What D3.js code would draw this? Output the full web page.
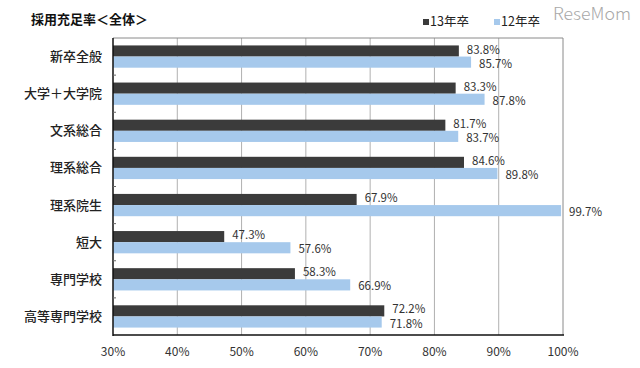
<!DOCTYPE html>
<html><head><meta charset="utf-8">
<script src="https://cdn.jsdelivr.net/npm/d3@7"></script>
<style>
html,body{margin:0;padding:0;background:#fff;}
text{font-family:"Noto Sans CJK JP","Noto Sans",sans-serif;}
</style></head>
<body>
<svg id="chart" width="640" height="368"></svg>
<script>
const categories = ["新卒全般","大学＋大学院","文系総合","理系総合","理系院生","短大","専門学校","高等専門学校"];
const seriesNames = ["13年卒","12年卒"];
const values13 = [83.8,83.3,81.7,84.6,67.9,47.3,58.3,72.2];
const values12 = [85.7,87.8,83.7,89.8,99.7,57.6,66.9,71.8];
const xTicks = [30,40,50,60,70,80,90,100];
const colors = ["#3b3b3b","#a6c9ec"];

const svg = d3.select("#chart");
const pL = 113, pR = 563, pT = 38, pB = 335;

const x = d3.scaleLinear().domain([30,100]).range([pL,pR]);
const y = d3.scaleBand().domain(categories).range([pT,pB]).paddingInner(0.4).paddingOuter(0.2);
const ys = d3.scaleBand().domain(seriesNames).range([0,y.bandwidth()]);

// gridlines
svg.append("g").selectAll("line").data(xTicks.slice(1,-1)).join("line")
  .attr("x1",d=>x(d)).attr("x2",d=>x(d)).attr("y1",pT).attr("y2",pB)
  .attr("stroke","#b0b0b0").attr("stroke-width",1);
// border top/right
svg.append("line").attr("x1",pL).attr("x2",pR).attr("y1",pT).attr("y2",pT).attr("stroke","#8a8a8a");
svg.append("line").attr("x1",pR).attr("x2",pR).attr("y1",pT).attr("y2",pB).attr("stroke","#8a8a8a");

// bars
const data = categories.map((c,i)=>({c, vals:[values13[i],values12[i]]}));
const g = svg.append("g");
data.forEach(d=>{
  d.vals.forEach((v,j)=>{
    const yy = y(d.c)+ys(seriesNames[j]);
    g.append("rect").attr("x",x(30)).attr("y",yy).attr("width",x(v)-x(30)).attr("height",ys.bandwidth())
      .attr("fill",colors[j]);
    g.append("text").attr("x",x(v)+8).attr("y",yy+ys.bandwidth()/2+(j===0?-1.5:1.5)).attr("dy","0.35em")
      .attr("font-family","'Liberation Sans', Arial, sans-serif")
      .attr("font-size",11.5).attr("fill","#333").text(v.toFixed(1)+"%");
  });
});

// axes lines
svg.append("line").attr("x1",pL).attr("x2",pL).attr("y1",pT).attr("y2",pB+1).attr("stroke","#111").attr("stroke-width",1.5);
svg.append("line").attr("x1",pL).attr("x2",pR+1).attr("y1",pB).attr("y2",pB).attr("stroke","#111").attr("stroke-width",1.5);
// small y ticks at band boundaries
const bounds = categories.slice(1).map(c=>y(c)-y.step()*y.paddingInner()/2);
svg.append("g").selectAll("line").data(bounds).join("line")
  .attr("x1",pL).attr("x2",pL+3).attr("y1",d=>d).attr("y2",d=>d).attr("stroke","#666");

// x tick labels
svg.append("g").selectAll("text").data(xTicks).join("text")
  .attr("x",d=>x(d)).attr("y",352).attr("dy","0.35em").attr("text-anchor","middle")
  .attr("font-size",12).attr("fill","#333").text(d=>d+"%");

// category labels
svg.append("g").selectAll("text").data(categories).join("text")
  .attr("x",102).attr("y",d=>y(d)+y.bandwidth()/2).attr("dy","0.35em").attr("text-anchor","end")
  .attr("font-size",13).attr("font-weight",500).attr("fill","#222").text(d=>d);

// title
svg.append("text").attr("x",31).attr("y",19).attr("dy","0.35em").attr("font-size",13).attr("font-weight",700)
  .attr("fill","#111").text("採用充足率＜全体＞");

// legend
const legX = [423,494];
seriesNames.forEach((s,i)=>{
  svg.append("rect").attr("x",legX[i]).attr("y",19).attr("width",6).attr("height",6).attr("fill",colors[i]);
  svg.append("text").attr("x",legX[i]+7).attr("y",22).attr("dy","0.35em").attr("font-size",12.5).attr("fill","#222").text(s);
});

// watermark
svg.append("text").attr("x",553).attr("y",14).attr("dy","0.35em").attr("font-size",17)
  .attr("font-family","'DejaVu Sans', sans-serif").attr("font-weight",200)
  .attr("fill","#a8a8a8").attr("textLength",78).attr("lengthAdjust","spacingAndGlyphs").text("ReseMom");
</script>
</body></html>
